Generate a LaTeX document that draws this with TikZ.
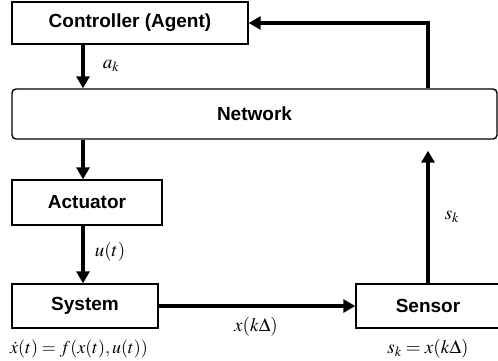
\documentclass[tikz,border=0pt]{standalone}
\usepackage{amsmath}
\usepackage{mathptmx}
\usepackage{fontspec}
\setsansfont{Liberation Sans}
\usepackage{tikz}
\usetikzlibrary{calc, arrows.meta}

\begin{document}
\begin{tikzpicture}[x=1pt, y=-1pt,
  block/.style={draw, line width=1.4pt, inner sep=0pt, font=\fontsize{19}{22}\selectfont\sffamily\bfseries},
  flow/.style={line width=3.4pt, -{Triangle[width=13pt,length=12pt]}},
  lbl/.style={font=\fontsize{19}{22}\selectfont}]
\useasboundingbox (0,0) rectangle (498,360);
% blocks
\node[block, minimum width=236pt, minimum height=42pt] (ctrl) at (130,23) {Controller (Agent)};
\node[block, rounded corners=4pt, minimum width=485pt, minimum height=50pt] (net) at (254.5,114) {Network};
\node[block, minimum width=150pt, minimum height=45pt] (act) at (87,202.5) {Actuator};
\node[block, minimum width=146pt, minimum height=44pt] (sys) at (85,306) {System};
\node[block, minimum width=144pt, minimum height=44pt] (sen) at (428,306) {Sensor};
\coordinate (lft) at (83,0);
\coordinate (rgt) at (428,0);
% arrows
\draw[flow] (ctrl.south -| lft) -- (net.north -| lft);
\draw[flow] (net.south -| lft) -- (act.north -| lft);
\draw[flow] (act.south -| lft) -- (sys.north -| lft);
\draw[flow] (sys.east) -- (sen.west);
\draw[flow] (sen.north) -- ($(net.south -| rgt)+(0,11)$);
\draw[flow] (net.north -| rgt) |- (ctrl.east);
% labels
\node[lbl] (ak) at (111,66) {$a_k$};
\node[lbl] (ut) at (110,252) {$u(t)$};
\node[lbl] (sk) at (452,217) {$s_k$};
\node[lbl] (xk) at (256,327) {$x(k\Delta)$};
\node[lbl, font=\fontsize{18}{21}\selectfont] (sysq) at (79,349) {$\dot{x}(t) = f(x(t), u(t))$};
\node[lbl] (senq) at (428,349) {$s_k = x(k\Delta)$};
\end{tikzpicture}
\end{document}
